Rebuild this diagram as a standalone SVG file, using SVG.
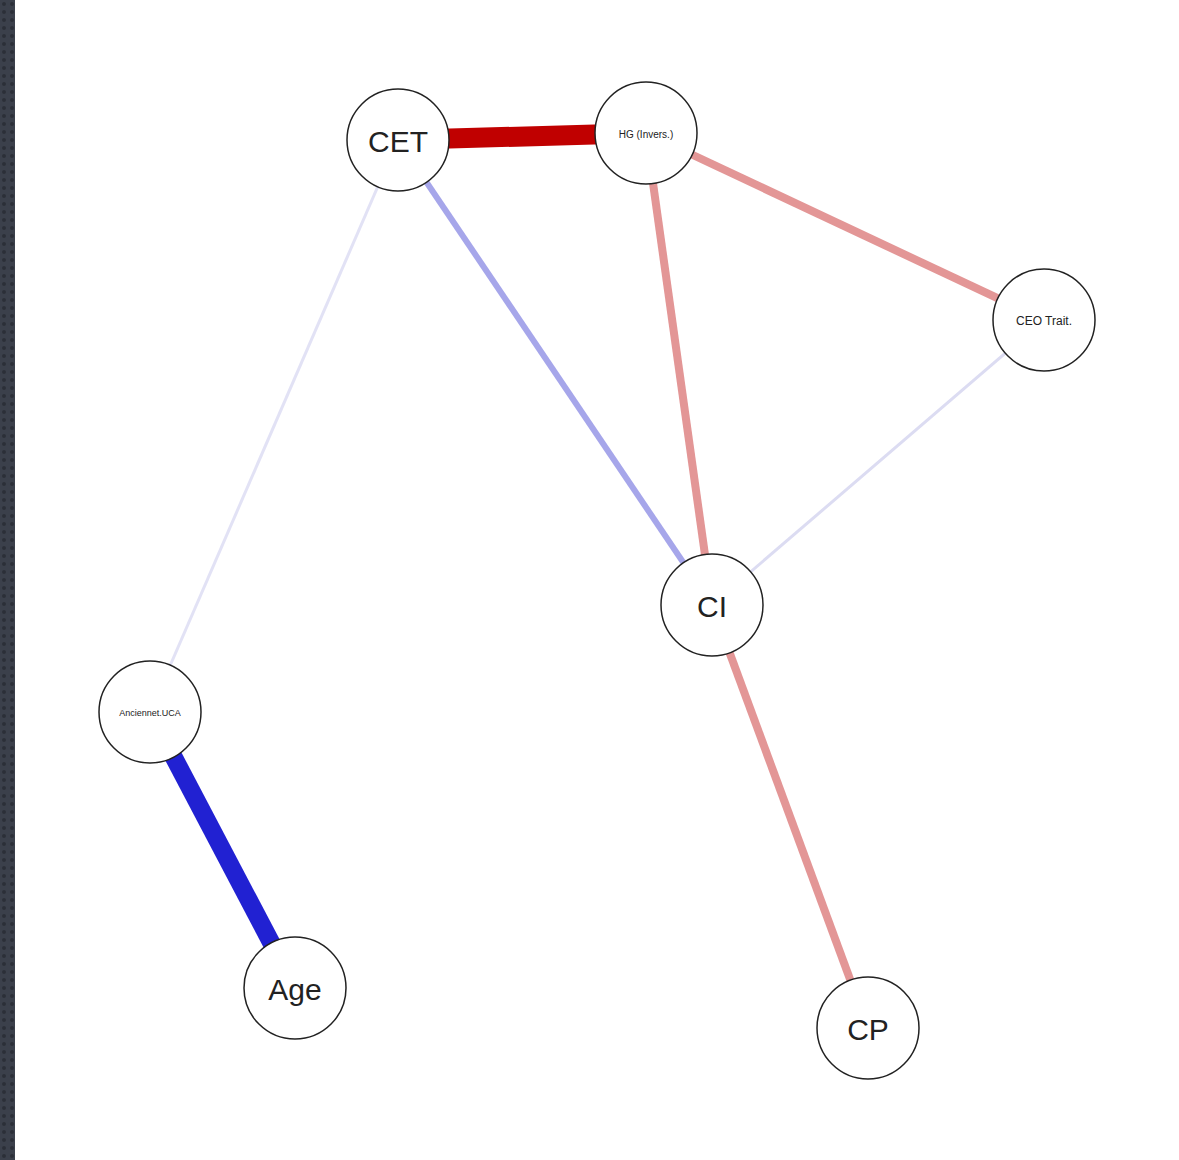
<svg xmlns="http://www.w3.org/2000/svg" width="1179" height="1160" viewBox="0 0 1179 1160">
<defs>
<pattern id="dots" width="8" height="8" patternUnits="userSpaceOnUse">
<rect width="8" height="8" fill="#3b404b"/>
<circle cx="4" cy="4" r="2" fill="#2b2f38"/>
</pattern>
<style>
.node circle{fill:#fff;stroke:#222;stroke-width:1.5}
.node text{font-family:"Liberation Sans",Arial,sans-serif;fill:#222;text-anchor:middle;dominant-baseline:central}
.big{font-size:30px}
.edges line{stroke-linecap:butt}
</style>
</defs>
<rect width="1179" height="1160" fill="#fff"/>
<rect x="0" y="0" width="15" height="1160" fill="url(#dots)"/>
<g id="connectors" class="edges">
<line x1="398" y1="140" x2="150" y2="712" stroke="#e2e2f5" stroke-width="3"/>
<line x1="1044" y1="320" x2="712" y2="605" stroke="#dcdcf2" stroke-width="3"/>
<line x1="398" y1="140" x2="712" y2="605" stroke="#a6a6ea" stroke-width="6"/>
<line x1="646" y1="133" x2="1044" y2="320" stroke="#e39696" stroke-width="8"/>
<line x1="646" y1="133" x2="712" y2="605" stroke="#e39696" stroke-width="8"/>
<line x1="712" y1="605" x2="868" y2="1028" stroke="#e39696" stroke-width="8"/>
<line x1="398" y1="140" x2="646" y2="133" stroke="#c00000" stroke-width="20"/>
<line x1="150" y1="712" x2="295" y2="988" stroke="#2121d2" stroke-width="18"/>
</g>
<g id="node-CET" class="node"><circle cx="398" cy="140" r="51"/><text x="398" y="141" class="big">CET</text></g>
<g id="node-HG" class="node"><circle cx="646" cy="133" r="51"/><text x="646" y="134" font-size="10">HG (Invers.)</text></g>
<g id="node-CEO" class="node"><circle cx="1044" cy="320" r="51"/><text x="1044" y="321" font-size="12">CEO Trait.</text></g>
<g id="node-CI" class="node"><circle cx="712" cy="605" r="51"/><text x="712" y="606" class="big">CI</text></g>
<g id="node-Anc" class="node"><circle cx="150" cy="712" r="51"/><text x="150" y="713" font-size="9">Anciennet.UCA</text></g>
<g id="node-Age" class="node"><circle cx="295" cy="988" r="51"/><text x="295" y="989" class="big">Age</text></g>
<g id="node-CP" class="node"><circle cx="868" cy="1028" r="51"/><text x="868" y="1029" class="big">CP</text></g>
</svg>
